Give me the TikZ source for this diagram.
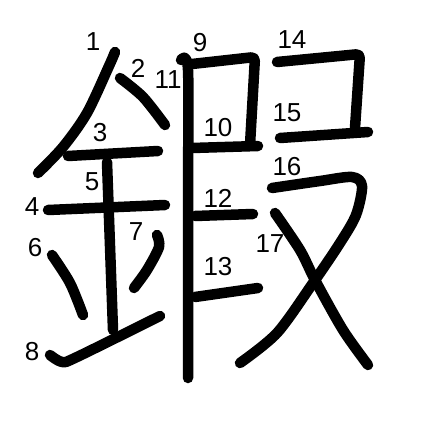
\documentclass[tikz,border=0pt]{standalone}
\usepackage{fontspec}
\setmainfont{Liberation Sans}
\usetikzlibrary{positioning}
\tikzset{
    stroke/.style={line width=10.5pt, line cap=round, line join=round, black},
    num/.style={font=\fontsize{26}{26}\selectfont, inner sep=0pt}
}

\begin{document}
\begin{tikzpicture}[x=1pt, y=-1pt]
        \useasboundingbox (0,0) rectangle (447,447);
        % left part (metal radical)
        \draw[stroke] plot[smooth] coordinates {(115,52) (109,66) (87,113) (63,147) (38,173)};
        \draw[stroke] plot[smooth] coordinates {(120,78) (143,97) (165,125)};
        \draw[stroke] (68,156) -- (158,151);
        \draw[stroke] (48,210) -- (165,205);
        \draw[stroke] (107,162) -- (113,330);
        \draw[stroke] plot[smooth] coordinates {(52,255) (70,283) (83,315)};
        \draw[stroke] plot[smooth] coordinates {(157,235) (159,247) (147,270) (134,288)};
        \draw[stroke] plot[smooth] coordinates {(50,355) (62,362) (77,357) (160,316)};
        % right part
        \draw[stroke, rounded corners=4pt] (192,64) -- (255,57) -- (250,145);
        \draw[stroke] (192,148) -- (258,146);
        \draw[stroke] plot[smooth] coordinates {(181,60) (188,70) (188,200) (188,378)};
        \draw[stroke] (195,216) -- (253,214);
        \draw[stroke] (195,297) -- (258,288);
        \draw[stroke, rounded corners=4pt] (277,62) -- (360,54) -- (355,128);
        \draw[stroke] (280,138) -- (368,132);
        \draw[stroke] plot[smooth] coordinates {(272,188) (320,181) (352,177) (362,186) (356,215) (340,243) (313,283) (277,333) (240,363)};
        \draw[stroke] plot[smooth] coordinates {(275,213) (300,250) (315,280) (343,330) (368,365)};
        % stroke numbers
        \node[num] (n1) at (93,42) {1};
        \node[num] (n2) at (138,68) {2};
        \node[num] (n3) at (100,133) {3};
        \node[num] (n4) at (32,207) {4};
        \node[num] (n5) at (92,182) {5};
        \node[num] (n6) at (35,248) {6};
        \node[num] (n7) at (136,232) {7};
        \node[num] (n8) at (32,352) {8};
        \node[num] (n9) at (200,43) {9};
        \node[num] (n10) at (218,128) {10};
        \node[num] (n11) at (168,80) {11};
        \node[num] (n12) at (218,198) {12};
        \node[num] (n13) at (218,267) {13};
        \node[num] (n14) at (292,40) {14};
        \node[num] (n15) at (287,113) {15};
        \node[num] (n16) at (287,167) {16};
        \node[num] (n17) at (270,244) {17};
    \end{tikzpicture}
\end{document}
